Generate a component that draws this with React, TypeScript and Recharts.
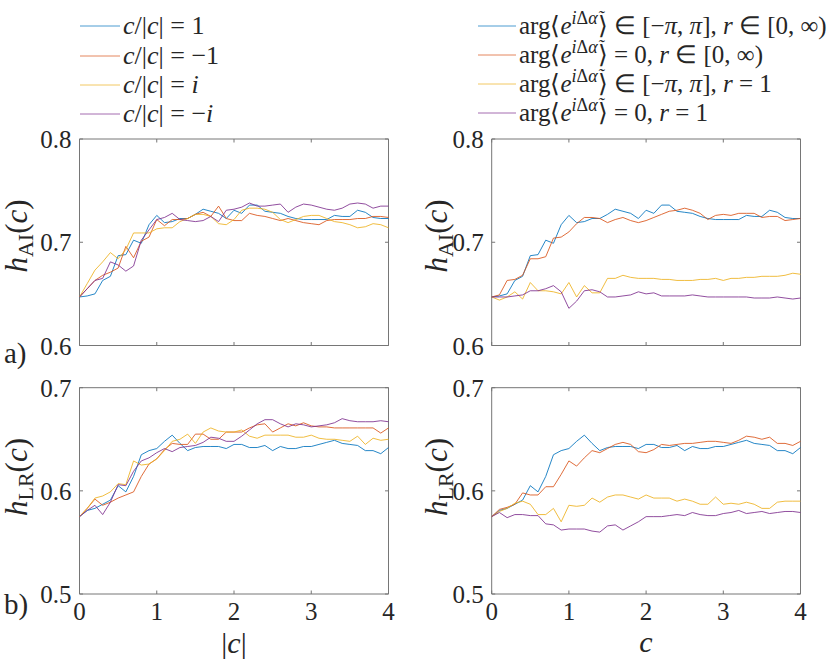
import React from 'react';
import { LineChart, Line, XAxis, YAxis, ReferenceArea } from 'recharts';

// ---------- data ----------
const cValues = [0, 0.1, 0.2, 0.3, 0.4, 0.5, 0.6, 0.7, 0.8, 0.9, 1, 1.1, 1.2, 1.3, 1.4, 1.5, 1.6, 1.7, 1.8, 1.9, 2, 2.1, 2.2, 2.3, 2.4, 2.5, 2.6, 2.7, 2.8, 2.9, 3, 3.1, 3.2, 3.3, 3.4, 3.5, 3.6, 3.7, 3.8, 3.9, 4];

const xTicks = [0, 1, 2, 3, 4];
const aiTicks = [0.6, 0.7, 0.8];
const lrTicks = [0.5, 0.6, 0.7];

const aiBase = [0.647, 0.648, 0.650, 0.663, 0.667, 0.687, 0.688, 0.702, 0.699, 0.717, 0.726, 0.719, 0.720, 0.723, 0.723, 0.727, 0.732, 0.730, 0.728, 0.723, 0.731, 0.728, 0.736, 0.736, 0.730, 0.729, 0.728, 0.725, 0.723, 0.722, 0.722, 0.722, 0.722, 0.726, 0.725, 0.725, 0.731, 0.729, 0.724, 0.723, 0.723];
const aiMinusOne = [0.647, 0.655, 0.663, 0.668, 0.671, 0.675, 0.696, 0.685, 0.701, 0.705, 0.722, 0.716, 0.722, 0.722, 0.723, 0.727, 0.729, 0.725, 0.735, 0.723, 0.721, 0.721, 0.728, 0.726, 0.725, 0.723, 0.721, 0.723, 0.721, 0.719, 0.718, 0.717, 0.721, 0.722, 0.722, 0.722, 0.723, 0.723, 0.725, 0.725, 0.724];
const aiPlusI = [0.647, 0.660, 0.673, 0.681, 0.690, 0.684, 0.693, 0.709, 0.709, 0.709, 0.713, 0.714, 0.714, 0.720, 0.723, 0.727, 0.727, 0.725, 0.718, 0.717, 0.722, 0.731, 0.733, 0.733, 0.732, 0.729, 0.722, 0.719, 0.722, 0.725, 0.726, 0.726, 0.723, 0.720, 0.719, 0.717, 0.714, 0.715, 0.718, 0.717, 0.714];
const aiMinusI = [0.647, 0.655, 0.663, 0.665, 0.681, 0.678, 0.672, 0.677, 0.702, 0.712, 0.722, 0.724, 0.728, 0.722, 0.721, 0.720, 0.721, 0.725, 0.720, 0.731, 0.732, 0.734, 0.738, 0.735, 0.735, 0.736, 0.737, 0.729, 0.734, 0.737, 0.736, 0.734, 0.732, 0.731, 0.733, 0.737, 0.738, 0.737, 0.733, 0.735, 0.735];
const aiArgZero = [0.647, 0.649, 0.663, 0.664, 0.668, 0.684, 0.684, 0.686, 0.704, 0.705, 0.710, 0.718, 0.724, 0.724, 0.723, 0.719, 0.722, 0.724, 0.721, 0.719, 0.721, 0.724, 0.727, 0.730, 0.731, 0.733, 0.731, 0.728, 0.722, 0.726, 0.727, 0.726, 0.728, 0.728, 0.728, 0.724, 0.725, 0.725, 0.721, 0.722, 0.723];
const aiUnitR = [0.647, 0.644, 0.647, 0.652, 0.645, 0.661, 0.653, 0.653, 0.652, 0.650, 0.661, 0.647, 0.658, 0.651, 0.651, 0.665, 0.665, 0.668, 0.666, 0.665, 0.665, 0.665, 0.664, 0.664, 0.663, 0.663, 0.663, 0.664, 0.664, 0.665, 0.663, 0.665, 0.665, 0.666, 0.666, 0.667, 0.667, 0.667, 0.668, 0.670, 0.669];
const aiArgZeroUnitR = [0.647, 0.647, 0.647, 0.648, 0.649, 0.653, 0.653, 0.655, 0.658, 0.652, 0.636, 0.643, 0.653, 0.654, 0.652, 0.647, 0.647, 0.648, 0.649, 0.652, 0.650, 0.651, 0.648, 0.648, 0.648, 0.648, 0.649, 0.648, 0.647, 0.647, 0.647, 0.647, 0.647, 0.647, 0.646, 0.646, 0.646, 0.647, 0.646, 0.645, 0.646];

const lrBase = [0.575, 0.581, 0.583, 0.587, 0.591, 0.605, 0.599, 0.614, 0.635, 0.639, 0.641, 0.648, 0.654, 0.646, 0.639, 0.642, 0.643, 0.643, 0.643, 0.641, 0.645, 0.645, 0.642, 0.642, 0.644, 0.639, 0.643, 0.641, 0.641, 0.643, 0.643, 0.645, 0.647, 0.649, 0.646, 0.645, 0.644, 0.639, 0.639, 0.636, 0.642];
const lrMinusOne = [0.575, 0.583, 0.592, 0.586, 0.589, 0.593, 0.596, 0.599, 0.614, 0.626, 0.631, 0.640, 0.646, 0.645, 0.645, 0.655, 0.655, 0.650, 0.650, 0.657, 0.657, 0.657, 0.661, 0.664, 0.665, 0.657, 0.661, 0.665, 0.663, 0.666, 0.663, 0.662, 0.662, 0.661, 0.661, 0.661, 0.661, 0.661, 0.661, 0.656, 0.661];
const lrPlusI = [0.575, 0.583, 0.593, 0.595, 0.599, 0.607, 0.606, 0.629, 0.625, 0.626, 0.631, 0.639, 0.648, 0.650, 0.655, 0.646, 0.657, 0.661, 0.658, 0.657, 0.657, 0.659, 0.653, 0.651, 0.654, 0.654, 0.654, 0.654, 0.652, 0.652, 0.654, 0.651, 0.650, 0.650, 0.649, 0.648, 0.653, 0.645, 0.651, 0.649, 0.650];
const lrMinusI = [0.575, 0.581, 0.586, 0.577, 0.589, 0.606, 0.605, 0.619, 0.629, 0.632, 0.637, 0.641, 0.638, 0.642, 0.643, 0.644, 0.647, 0.652, 0.651, 0.648, 0.648, 0.653, 0.659, 0.665, 0.669, 0.669, 0.665, 0.662, 0.665, 0.664, 0.662, 0.663, 0.664, 0.666, 0.670, 0.668, 0.667, 0.667, 0.667, 0.668, 0.667];
const lrArgZero = [0.575, 0.582, 0.584, 0.587, 0.598, 0.596, 0.596, 0.604, 0.604, 0.616, 0.629, 0.624, 0.632, 0.639, 0.637, 0.641, 0.645, 0.647, 0.645, 0.638, 0.637, 0.640, 0.645, 0.644, 0.645, 0.646, 0.646, 0.647, 0.648, 0.648, 0.647, 0.646, 0.649, 0.653, 0.652, 0.650, 0.652, 0.646, 0.646, 0.644, 0.648];
const lrUnitR = [0.575, 0.580, 0.583, 0.588, 0.590, 0.587, 0.577, 0.577, 0.583, 0.570, 0.586, 0.585, 0.586, 0.593, 0.589, 0.594, 0.596, 0.596, 0.594, 0.592, 0.596, 0.593, 0.593, 0.593, 0.590, 0.592, 0.590, 0.587, 0.587, 0.594, 0.587, 0.588, 0.587, 0.589, 0.587, 0.583, 0.583, 0.589, 0.590, 0.590, 0.590];
const lrArgZeroUnitR = [0.575, 0.579, 0.574, 0.577, 0.577, 0.576, 0.576, 0.568, 0.567, 0.562, 0.563, 0.563, 0.563, 0.561, 0.560, 0.566, 0.567, 0.562, 0.566, 0.570, 0.575, 0.575, 0.575, 0.576, 0.577, 0.576, 0.579, 0.577, 0.576, 0.576, 0.578, 0.579, 0.581, 0.578, 0.579, 0.580, 0.578, 0.579, 0.580, 0.580, 0.579];

// ---------- styling ----------
const COLORS = ['#0072BD', '#D95319', '#EDB120', '#7E2F8E'];
const SERIF = 'Liberation Serif, Times New Roman, serif';
const TEXT = '#262626';
const FRAME = '#767676';
const TL = 3.5;

function buildRows(s1: number[], s2: number[], s3: number[], s4: number[]) {
  return cValues.map((c, i) => ({ c, s1: s1[i], s2: s2[i], s3: s3[i], s4: s4[i] }));
}

const rowsTL = buildRows(aiBase, aiMinusOne, aiPlusI, aiMinusI);
const rowsTR = buildRows(aiBase, aiArgZero, aiUnitR, aiArgZeroUnitR);
const rowsBL = buildRows(lrBase, lrMinusOne, lrPlusI, lrMinusI);
const rowsBR = buildRows(lrBase, lrArgZero, lrUnitR, lrArgZeroUnitR);

type PanelProps = {
  rows: any[];
  left: number;
  top: number;
  yw: number;
  mr: number;
  mt: number;
  plotW: number;
  plotH: number;
  xh: number;
  domain: [number, number];
  yTicks: number[];
  xLabels: boolean;
};

function Panel(p: PanelProps) {
  const W = p.yw + p.plotW + p.mr;
  const H = p.mt + p.plotH + p.xh;
  const yTick = (t: any) => {
    const { x, y, payload } = t;
    return (
      <g>
        <line x1={x} x2={x + TL} y1={y} y2={y} stroke={FRAME} strokeWidth={1} />
        <line x1={x + p.plotW - TL} x2={x + p.plotW} y1={y} y2={y} stroke={FRAME} strokeWidth={1} />
        <text x={x - 8} y={y} dy="0.36em" textAnchor="end" fontFamily={SERIF} fontSize={25} fill={TEXT}>
          {Number(payload.value).toFixed(1)}
        </text>
      </g>
    );
  };
  const xTick = (t: any) => {
    const { x, y, payload } = t;
    return (
      <g>
        <line x1={x} x2={x} y1={y} y2={y - TL} stroke={FRAME} strokeWidth={1} />
        <line x1={x} x2={x} y1={y - p.plotH} y2={y - p.plotH + TL} stroke={FRAME} strokeWidth={1} />
        {p.xLabels ? (
          <text x={x} y={y + 26} textAnchor="middle" fontFamily={SERIF} fontSize={25} fill={TEXT}>
            {payload.value}
          </text>
        ) : null}
      </g>
    );
  };
  return (
    <div style={{ position: 'absolute', left: p.left, top: p.top, width: W, height: H }}>
      <LineChart width={W} height={H} data={p.rows} margin={{ top: p.mt, right: p.mr, bottom: 0, left: 0 }}>
        <XAxis dataKey="c" type="number" domain={[0, 4]} ticks={xTicks} interval={0} tickSize={0} tickMargin={0} axisLine={false} tickLine={false} height={p.xh} tick={xTick} />
        <YAxis type="number" domain={p.domain} ticks={p.yTicks} interval={0} tickSize={0} tickMargin={0} axisLine={false} tickLine={false} width={p.yw} allowDataOverflow tick={yTick} />
        <Line type="linear" dataKey="s1" stroke={COLORS[0]} strokeWidth={1} strokeOpacity={0.85} dot={false} isAnimationActive={false} />
        <Line type="linear" dataKey="s2" stroke={COLORS[1]} strokeWidth={1} strokeOpacity={0.85} dot={false} isAnimationActive={false} />
        <Line type="linear" dataKey="s3" stroke={COLORS[2]} strokeWidth={1} strokeOpacity={0.85} dot={false} isAnimationActive={false} />
        <Line type="linear" dataKey="s4" stroke={COLORS[3]} strokeWidth={1} strokeOpacity={0.85} dot={false} isAnimationActive={false} />
        <ReferenceArea x1={0} x2={4} y1={p.domain[0]} y2={p.domain[1]} fill="none" stroke={FRAME} strokeWidth={1} />
      </LineChart>
    </div>
  );
}

function YTitle({ x, y, sub }: { x: number; y: number; sub: string }) {
  return (
    <text transform={`translate(${x}, ${y}) rotate(-90)`} textAnchor="middle" fontFamily={SERIF} fontSize={31} fill={TEXT}>
      <tspan fontStyle="italic">h</tspan>
      <tspan fontSize={22} dy={6}>{sub}</tspan>
      <tspan dy={-6}>(</tspan>
      <tspan fontStyle="italic">c</tspan>
      <tspan>)</tspan>
    </text>
  );
}

const leftLegend = ['1', '−1', 'i', '−i'];
const leftLegendRows = [26, 56, 85, 114];
const rightLegendRows = [26, 55, 84, 113];

function LeftLegendText({ v }: { v: string }) {
  const italic = v.endsWith('i');
  return (
    <>
      <tspan fontStyle="italic">c</tspan>
      <tspan>/|</tspan>
      <tspan fontStyle="italic">c</tspan>
      <tspan>| = </tspan>
      {italic ? (
        <>
          {v.startsWith('−') ? <tspan>−</tspan> : null}
          <tspan fontStyle="italic">i</tspan>
        </>
      ) : (
        <tspan>{v}</tspan>
      )}
    </>
  );
}

function RightLegendText({ argZero, unitR }: { argZero: boolean; unitR: boolean }) {
  return (
    <>
      <tspan>arg⟨</tspan>
      <tspan fontStyle="italic">e</tspan>
      <tspan fontSize={18} dy={-10}>
        <tspan fontStyle="italic">i</tspan>Δ<tspan fontStyle="italic">α̃</tspan>
      </tspan>
      <tspan dy={10}>⟩ {argZero ? '= 0' : '∈ [−'}</tspan>
      {argZero ? null : (
        <>
          <tspan fontStyle="italic">π</tspan>
          <tspan>, </tspan>
          <tspan fontStyle="italic">π</tspan>
          <tspan>]</tspan>
        </>
      )}
      <tspan>, </tspan>
      <tspan fontStyle="italic">r</tspan>
      <tspan>{unitR ? ' = 1' : ' ∈ [0, ∞)'}</tspan>
    </>
  );
}

const rightLegendDefs = [
  { argZero: false, unitR: false },
  { argZero: true, unitR: false },
  { argZero: false, unitR: true },
  { argZero: true, unitR: true },
];

export default function App() {
  const leftX = 30;
  const rightX = 440;
  return (
    <div style={{ position: 'absolute', left: 0, top: 0, width: 830, height: 666, background: '#fff' }}>
      <Panel rows={rowsTL} left={leftX} top={125} yw={49.5} mr={11.5} mt={14} plotW={309} plotH={206.5} xh={18} domain={[0.6, 0.8]} yTicks={aiTicks} xLabels={false} />
      <Panel rows={rowsTR} left={rightX} top={125} yw={51.7} mr={9.5} mt={14} plotW={308.8} plotH={206.5} xh={18} domain={[0.6, 0.8]} yTicks={aiTicks} xLabels={false} />
      <Panel rows={rowsBL} left={leftX} top={375} yw={49.5} mr={11.5} mt={12.7} plotW={309} plotH={206.3} xh={36} domain={[0.5, 0.7]} yTicks={lrTicks} xLabels={true} />
      <Panel rows={rowsBR} left={rightX} top={375} yw={51.7} mr={9.5} mt={12.7} plotW={308.8} plotH={206.3} xh={36} domain={[0.5, 0.7]} yTicks={lrTicks} xLabels={true} />

      <svg width={830} height={666} style={{ position: 'absolute', left: 0, top: 0, pointerEvents: 'none' }}>
        {leftLegend.map((v, i) => (
          <g key={'ll' + i}>
            <line x1={80} x2={120} y1={leftLegendRows[i]} y2={leftLegendRows[i]} stroke={COLORS[i]} strokeWidth={1} strokeOpacity={0.7} />
            <text x={123} y={leftLegendRows[i] + 8} fontFamily={SERIF} fontSize={26} fill={TEXT}>
              <LeftLegendText v={v} />
            </text>
          </g>
        ))}
        {rightLegendDefs.map((d, i) => (
          <g key={'rl' + i}>
            <line x1={478} x2={516} y1={rightLegendRows[i]} y2={rightLegendRows[i]} stroke={COLORS[i]} strokeWidth={1} strokeOpacity={0.7} />
            <text x={519} y={rightLegendRows[i] + 8} fontFamily={SERIF} fontSize={25} fill={TEXT}>
              <RightLegendText argZero={d.argZero} unitR={d.unitR} />
            </text>
          </g>
        ))}

        <YTitle x={27} y={236} sub="AI" />
        <YTitle x={447} y={236} sub="AI" />
        <YTitle x={27} y={477} sub="LR" />
        <YTitle x={447} y={477} sub="LR" />

        <text x={4} y={363} fontFamily={SERIF} fontSize={29} fill={TEXT}>a)</text>
        <text x={4} y={614} fontFamily={SERIF} fontSize={29} fill={TEXT}>b)</text>

        <text x={234} y={653} textAnchor="middle" fontFamily={SERIF} fontSize={30} fill={TEXT}>
          <tspan>|</tspan>
          <tspan fontStyle="italic">c</tspan>
          <tspan>|</tspan>
        </text>
        <text x={646} y={652} textAnchor="middle" fontFamily={SERIF} fontSize={30} fontStyle="italic" fill={TEXT}>c</text>
      </svg>
    </div>
  );
}
